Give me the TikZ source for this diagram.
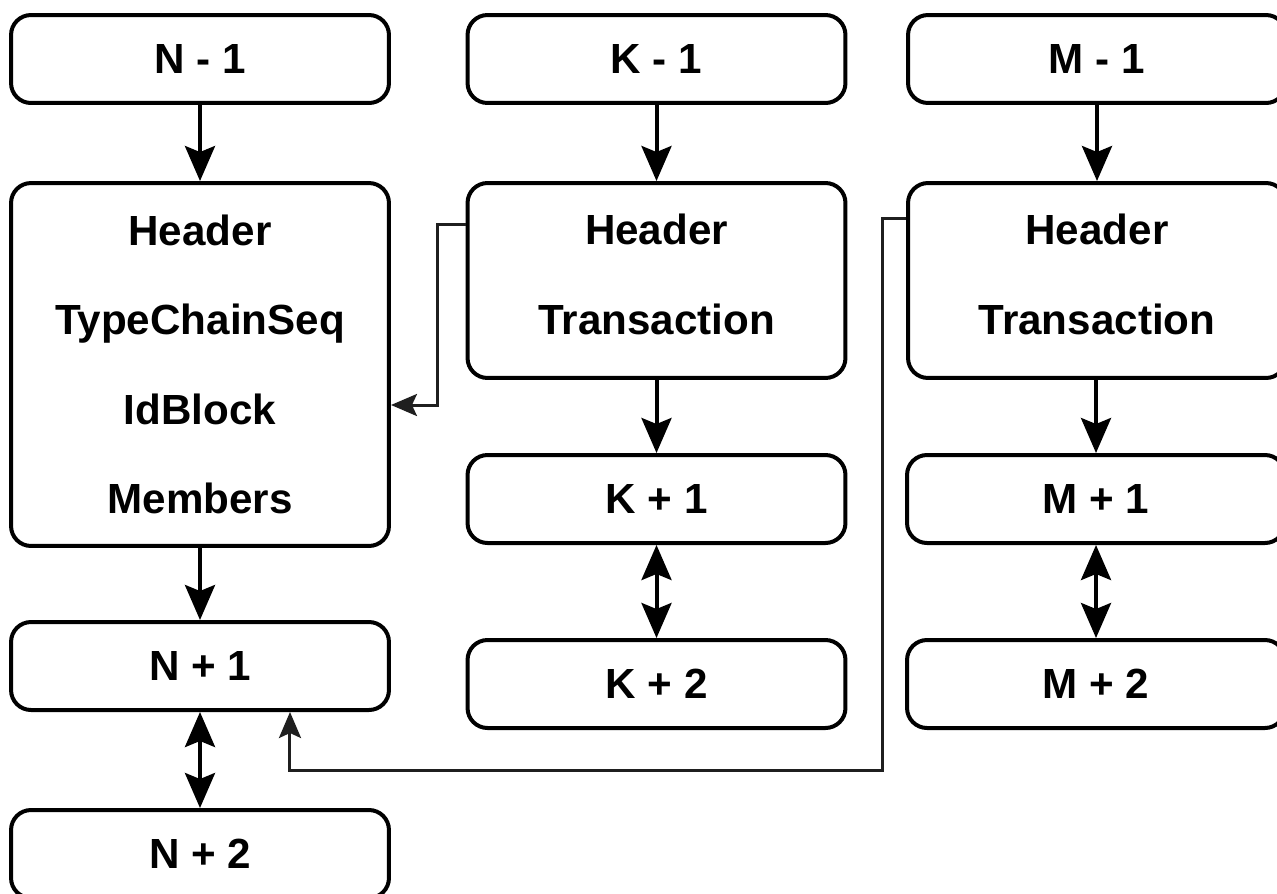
\documentclass[tikz,border=0pt]{standalone}
\usepackage{fontspec}
\setmainfont{Liberation Sans}
\usetikzlibrary{arrows.meta}

\begin{document}
\begin{tikzpicture}[x=0.02cm, y=-0.02cm,
        block/.style={draw, line width=0.08cm, rounded corners=0.4cm,
            minimum width=7.56cm, minimum height=1.76cm, align=center,
            font=\fontsize{24}{51}\selectfont\bfseries},
        flow/.style={line width=0.08cm,
            -{Stealth[length=0.7cm, width=0.6cm, inset=0.12cm]}},
        both/.style={line width=0.08cm,
            {Stealth[length=0.7cm, width=0.6cm, inset=0.12cm]}-{Stealth[length=0.7cm, width=0.6cm, inset=0.12cm]}},
        link/.style={line width=0.06cm, draw=black!88,
            -{Stealth[length=0.52cm, width=0.44cm, inset=0.1cm]}}]
    \path[use as bounding box, clip] (0,0) rectangle (1277,893);

    \node[block] (n1) at (200,59) {N - 1};
    \node[block, minimum height=7.26cm] (nb) at (200,364.5)
        {Header\\TypeChainSeq\\IdBlock\\Members};
    \node[block] (np1) at (200,666) {N + 1};
    \node[block] (np2) at (200,854) {N + 2};

    \node[block] (k1) at (656.5,59) {K - 1};
    \node[block, minimum height=3.9cm] (kb) at (656.5,280.5)
        {Header\\Transaction\rule[-0.24cm]{0pt}{0pt}};
    \node[block] (kp1) at (656.5,499) {K + 1};
    \node[block] (kp2) at (656.5,684) {K + 2};

    \node[block] (m1) at (1097,59) {M - 1};
    \node[block, minimum height=3.9cm] (mb) at (1097,280.5)
        {Header\\Transaction\rule[-0.24cm]{0pt}{0pt}};
    \node[block] (mp1) at (1096,499) {M + 1};
    \node[block] (mp2) at (1096,684) {M + 2};

    \draw[flow] (n1) -- (nb);
    \draw[flow] (nb) -- (np1);
    \draw[both] (np1) -- (np2);
    \draw[flow] (k1) -- (kb);
    \draw[flow] (kb) -- (kp1);
    \draw[both] (kp1) -- (kp2);
    \draw[flow] (m1) -- (mb);
    \draw[flow] (mb.south -| mp1) -- (mp1);
    \draw[both] (mp1) -- (mp2);

    \draw[link] ([yshift=-0.86cm]kb.north west) -- ++(-28,0)
        |- ([yshift=-0.81cm]nb.east);
    \draw[link] ([yshift=-0.74cm]mb.north west) -- ++(-24,0) -- ++(0,552)
        -| ([xshift=1.8cm]np1.south);
\end{tikzpicture}
\end{document}
